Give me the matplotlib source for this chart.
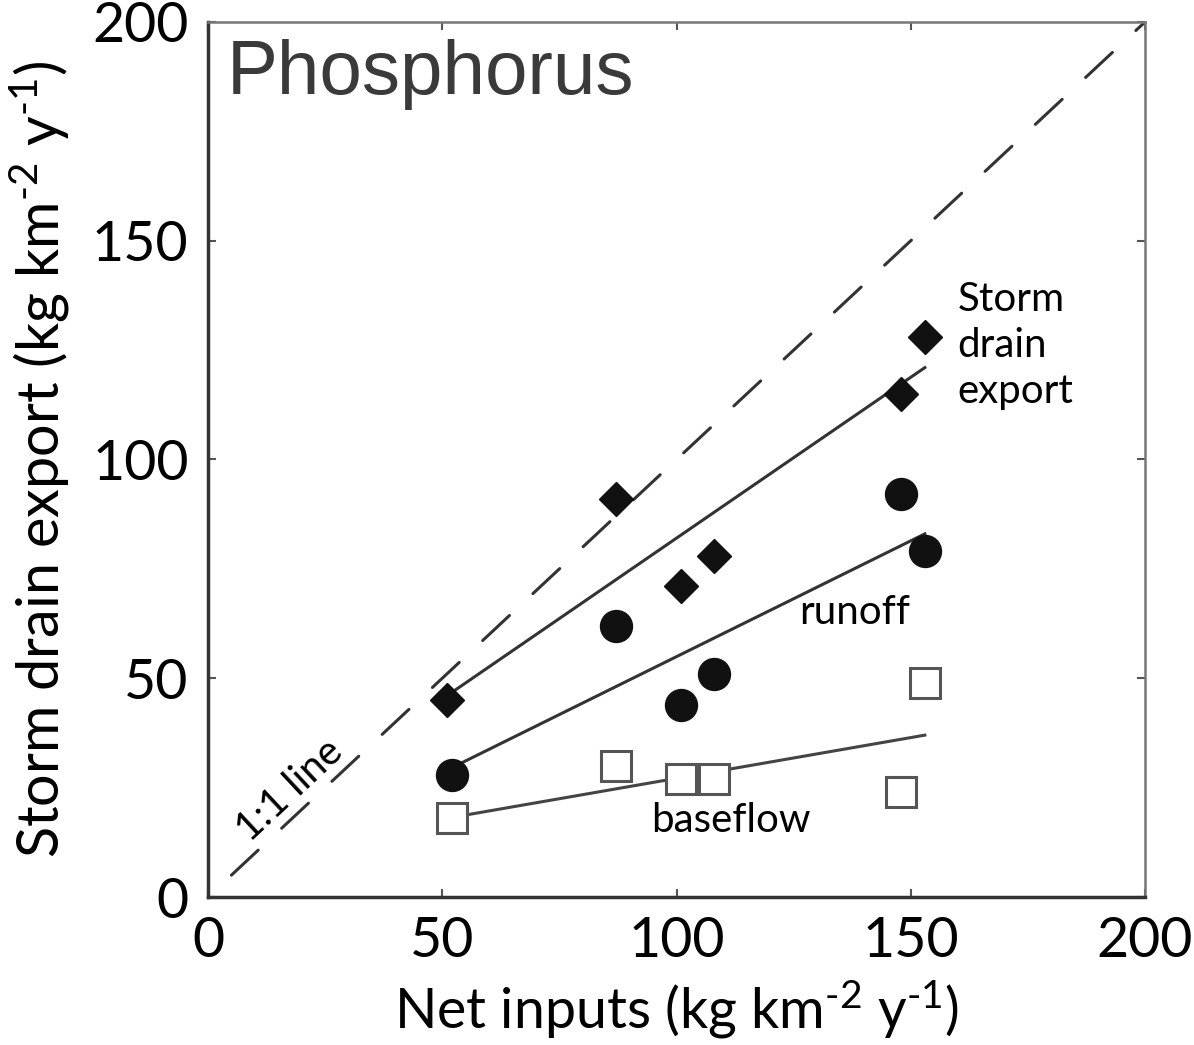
import matplotlib.pyplot as plt
import numpy as np

# values
storm_x = [51, 87, 101, 108, 148, 153]
storm_y = [45, 91, 71, 78, 115, 128]
runoff_x = [52, 87, 101, 108, 148, 153]
runoff_y = [28, 62, 44, 51, 92, 79]
base_x = [52, 87, 101, 108, 148, 153]
base_y = [18, 30, 27, 27, 24, 49]

# fitted line end points (x0, x1) and (y0, y1)
fit_x = [51, 153]
storm_fit_y = [46, 121]
runoff_fit_y = [29, 83]
base_fit_y = [18, 37]
one_to_one = [5, 200]

plt.rcParams["font.family"] = ["Lato", "DejaVu Sans"]
plt.rcParams["mathtext.fontset"] = "custom"
plt.rcParams["mathtext.rm"] = "Lato"
plt.rcParams["mathtext.it"] = "Lato:italic"

fig = plt.figure(figsize=(11.94, 10.45), dpi=100)
ax = fig.add_axes([0.1742, 0.1416, 0.7848, 0.8374])

line_col = "#333333"
ax.plot(one_to_one, one_to_one, color=line_col, lw=2.2, linestyle=(0, (12, 10.5)),
        dash_capstyle="round")
ax.plot(fit_x, storm_fit_y, color=line_col, lw=2.2)
ax.plot(fit_x, runoff_fit_y, color=line_col, lw=2.2)
ax.plot(fit_x, base_fit_y, color="#444444", lw=2.2)

ax.plot(storm_x, storm_y, "D", color="#111111", ms=17.5, ls="none")
ax.plot(runoff_x, runoff_y, "o", color="#111111", ms=23, ls="none")
ax.plot(base_x, base_y, "s", mfc="white", mec="#555555", mew=2.2, ms=21.5, ls="none")

ax.set_xlim(0, 200)
ax.set_ylim(0, 200)
ax.set_xticks([0, 50, 100, 150, 200])
ax.set_yticks([0, 50, 100, 150, 200])
ax.tick_params(direction="in", length=6, width=1.5, color="#555555",
               top=True, right=True, labelsize=40, pad=14)

for side in ["left", "bottom"]:
    ax.spines[side].set_linewidth(2.5)
    ax.spines[side].set_color("#333333")
for side in ["top", "right"]:
    ax.spines[side].set_linewidth(1.8)
    ax.spines[side].set_color("#777777")

ax.set_xlabel(r"Net inputs (kg km$^{\text{-2}}$ y$^{\text{-1}}$)", fontsize=40, labelpad=8)
ax.set_ylabel(r"Storm drain export (kg km$^{\text{-2}}$ y$^{\text{-1}}$)", fontsize=41.5,
              labelpad=14)

ax.text(4, 196, "Phosphorus", family=["Liberation Sans", "DejaVu Sans"],
        fontsize=55, color="#3a3a3a", ha="left", va="top")
ax.text(17.5, 24.5, "1:1 line", fontsize=29, rotation=43, ha="center", va="center")
ax.text(160, 126, "Storm\ndrain\nexport", fontsize=29, ha="left", va="center",
        linespacing=1.3)
ax.text(138, 65, "runoff", fontsize=29, ha="center", va="center")
ax.text(111.5, 17.5, "baseflow", fontsize=29, ha="center", va="center")

fig.savefig("out.png", dpi=100)
